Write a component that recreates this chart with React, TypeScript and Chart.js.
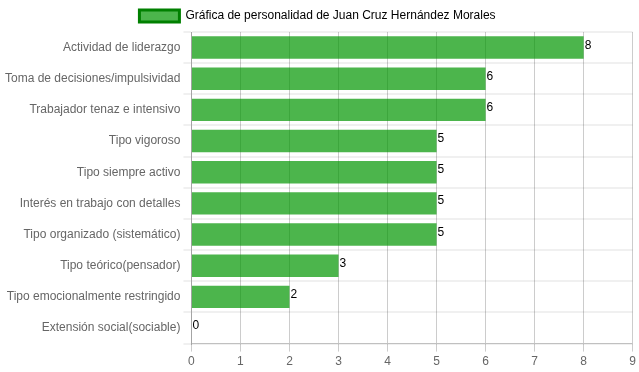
import React, { useEffect, useRef } from "react";
import { Chart, registerables } from "chart.js";

Chart.register(...registerables);

const categories = [
  "Actividad de liderazgo",
  "Toma de decisiones/impulsividad",
  "Trabajador tenaz e intensivo",
  "Tipo vigoroso",
  "Tipo siempre activo",
  "Interés en trabajo con detalles",
  "Tipo organizado (sistemático)",
  "Tipo teórico(pensador)",
  "Tipo emocionalmente restringido",
  "Extensión social(sociable)",
];
const values = [8, 6, 6, 5, 5, 5, 5, 3, 2, 0];
const seriesLabel = "Gráfica de personalidad de Juan Cruz Hernández Morales";

const valueLabels = {
  id: "valueLabels",
  afterDatasetsDraw(chart: any) {
    const ctx = chart.ctx;
    const meta = chart.getDatasetMeta(0);
    ctx.save();
    ctx.font = "12px 'Liberation Sans', Arial, sans-serif";
    ctx.fillStyle = "#000";
    ctx.textAlign = "left";
    ctx.textBaseline = "top";
    meta.data.forEach((bar: any, i: number) => {
      const top = bar.y - bar.height / 2;
      ctx.fillText(String(values[i]), bar.x + 1, top + 3);
    });
    ctx.restore();
  },
};

export default function App() {
  const ref = useRef<HTMLCanvasElement>(null);
  useEffect(() => {
    document.body.style.margin = "0";
    Chart.defaults.font.family = "'Liberation Sans', Arial, sans-serif";
    Chart.defaults.font.size = 12;
    Chart.defaults.color = "#666";
    const chart = new Chart(ref.current!, {
      type: "bar",
      data: {
        labels: categories,
        datasets: [
          {
            label: seriesLabel,
            data: values,
            backgroundColor: "rgba(0,150,0,0.7)",
            borderColor: "rgba(0,128,0,1)",
            borderWidth: 0,
          },
        ],
      },
      options: {
        indexAxis: "y",
        animation: false,
        responsive: false,
        layout: { padding: { left: 2, right: 6, top: 0, bottom: 0 } },
        plugins: {
          tooltip: { enabled: false },
          legend: {
            position: "top",
            labels: {
              boxWidth: 40,
              boxHeight: 12,
              generateLabels: (c: any) => [
                {
                  text: seriesLabel,
                  fillStyle: "rgba(0,150,0,0.7)",
                  strokeStyle: "rgba(0,128,0,1)",
                  lineWidth: 3,
                  datasetIndex: 0,
                  hidden: false,
                },
              ],
            },
          },
        },
        scales: {
          x: {
            min: 0,
            max: 9,
            ticks: { stepSize: 1 },
            grid: { color: "rgba(0,0,0,0.2)" },
            border: { color: "rgba(0,0,0,0.2)" },
          },
          y: {
            ticks: { padding: 3 },
            grid: { color: "rgba(0,0,0,0.06)", lineWidth: 2 },
            border: { color: "rgba(0,0,0,0.2)" },
          },
        },
      },
      plugins: [valueLabels],
    });
    return () => chart.destroy();
  }, []);
  return (
    <div style={{ width: 639, height: 372 }}>
      <canvas ref={ref} width={639} height={372} />
    </div>
  );
}
